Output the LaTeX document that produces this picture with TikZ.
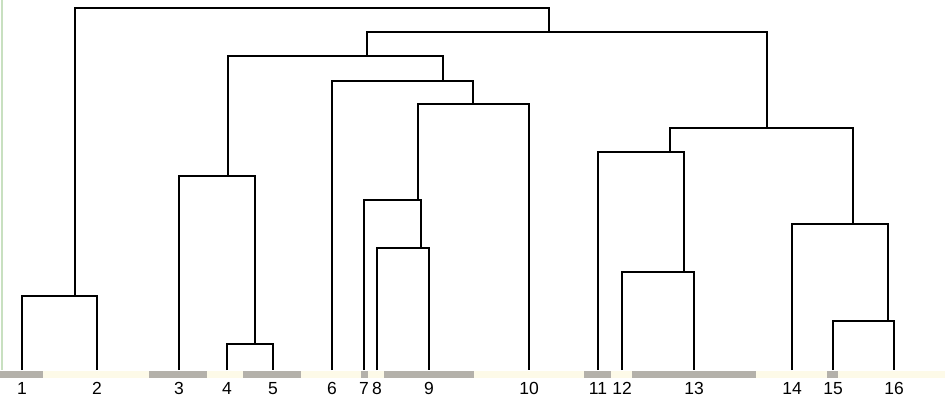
\documentclass[tikz,border=0pt]{standalone}
\usepackage{fontspec}
\setmainfont{Liberation Sans}
\definecolor{cream}{RGB}{253,250,232}
\definecolor{bargrey}{RGB}{180,177,170}
\definecolor{edgegreen}{RGB}{200,224,192}
\begin{document}
\begin{tikzpicture}[x=1pt,y=-1pt,
  link/.style={draw=black,line width=1.7pt,line join=miter},
  leaflabel/.style={anchor=base,font=\fontsize{17.5}{17.5}\selectfont,inner sep=0pt,text depth=0pt}]
\useasboundingbox (0,0) rectangle (945,397);
% strip
\fill[cream] (0,371) rectangle (945,378);
\foreach \a/\b in {0/43,149/207,243/301,361/368,384/474,584/611,632/756,827/838}
  \fill[bargrey] (\a,371) rectangle (\b,378);
% left green edge
\fill[edgegreen] (0.5,0) rectangle (2.5,370);
% leaves
\foreach \n/\x in {1/22,2/97,3/179,4/227,5/273,6/332,7/364,8/377,9/429,10/529,11/598,12/622,13/694,14/792,15/833,16/894}{
  \coordinate (l\n) at (\x,370);
  \node[leaflabel] (t\n) at (\x,394.5) {\n};
}
% internal merge points (stem tops)
\coordinate (A) at (75,296);
\coordinate (B) at (255,344);
\coordinate (C) at (228,176);
\coordinate (D) at (421,248);
\coordinate (E) at (418,200);
\coordinate (F) at (473,104);
\coordinate (G) at (443,81);
\coordinate (H) at (367,56);
\coordinate (I) at (684,272);
\coordinate (J) at (670,152);
\coordinate (K) at (888,321);
\coordinate (L) at (853,224);
\coordinate (M) at (767,128);
\coordinate (N) at (549,32);
\coordinate (R) at (312,8);
% links
\draw[link] (l1) |- (A) -| (l2);
\draw[link] (l4) |- (B) -| (l5);
\draw[link] (l3) |- (C) -| (B);
\draw[link] (l8) |- (D) -| (l9);
\draw[link] (l7) |- (E) -| (D);
\draw[link] (E) |- (F) -| (l10);
\draw[link] (l6) |- (G) -| (F);
\draw[link] (C) |- (H) -| (G);
\draw[link] (l12) |- (I) -| (l13);
\draw[link] (l11) |- (J) -| (I);
\draw[link] (l15) |- (K) -| (l16);
\draw[link] (l14) |- (L) -| (K);
\draw[link] (J) |- (M) -| (L);
\draw[link] (H) |- (N) -| (M);
\draw[link] (A) |- (R) -| (N);
\end{tikzpicture}
\end{document}
